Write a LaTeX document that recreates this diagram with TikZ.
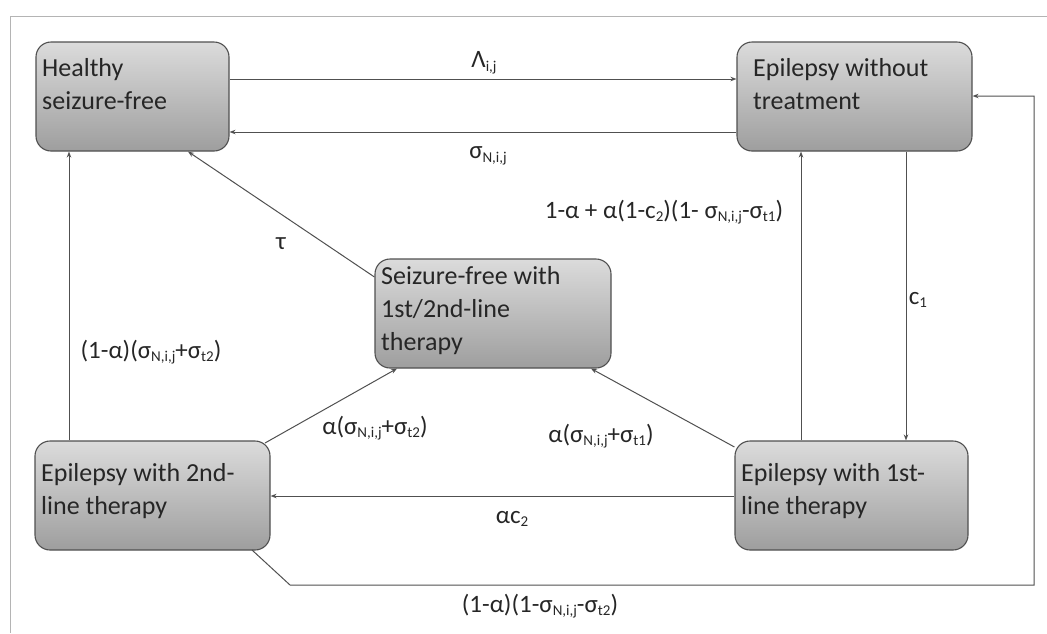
\documentclass[tikz,border=0pt]{standalone}
\usepackage{fontspec}
\setmainfont{Carlito}
\usetikzlibrary{arrows.meta,calc}
\newcommand{\mysb}[1]{\raisebox{-0.3ex}{\fontsize{15}{15}\selectfont #1}}
\definecolor{edgegray}{HTML}{505050}
\definecolor{framegray}{HTML}{B4B4B4}
\tikzset{
  box/.style={draw=edgegray, line width=1.1pt, rounded corners=15pt,
    top color=black!14, bottom color=black!38, minimum width=#1, minimum height=109pt, inner sep=0pt},
  txt/.style={anchor=north west, align=left, inner sep=0pt, font=\fontsize{26}{33}\selectfont, text=black!85},
  lbl/.style={inner sep=0pt, font=\fontsize{25}{30}\selectfont, text=black!85},
  conn/.style={draw=edgegray, line width=1pt, -{Stealth[length=6pt,width=4.5pt]}}
}
\begin{document}
\begin{tikzpicture}[x=1pt,y=-1pt]
\useasboundingbox (0,0) rectangle (1047,633);
\draw[framegray, line width=1pt] (10,633) -- (10,16) -- (1047,16);
% boxes
\node[box=193pt] (h) at (132.5,96.5) {};
\node[box=235pt] (w) at (854.5,96.5) {};
\node[box=236pt] (s) at (493,313.5) {};
\node[box=235pt] (e2) at (152.5,495.5) {};
\node[box=233pt] (e1) at (851.5,495.5) {};
% texts
\node[txt] (th) at (42,58) {Healthy\\seizure-free};
\node[txt] (tw) at (753,58) {Epilepsy without\\treatment};
\node[txt] (ts) at (381,266) {Seizure-free with\\1st/2nd-line\\therapy};
\node[txt] (te2) at (41,463) {Epilepsy with 2nd-\\line therapy};
\node[txt] (te1) at (741,463) {Epilepsy with 1st-\\line therapy};
% connectors
\draw[conn] (h.east |- 0,79) -- (w.west |- 0,79);
\draw[conn] (w.west |- 0,132) -- (h.east |- 0,132);
\draw[conn] (s.west |- 0,277) -- (h.south -| 188,0);
\draw[conn] (e2.north -| 69,0) -- (h.south -| 69,0);
\draw[conn] (265,443) -- (s.south -| 397,0);
\draw[conn] (e1.west |- 0,447) -- (s.south -| 591,0);
\draw[conn] (e1.west |- 0,496) -- (e2.east |- 0,496);
\draw[conn] (e1.north -| 801,0) -- (w.south -| 801,0);
\draw[conn] (w.south -| 906,0) -- (e1.north -| 906,0);
\coordinate (b1) at (290,585);
\coordinate (b2) at (1034,585);
\coordinate (b3) at (1034,96);
\draw[conn] (252,550) -- (b1) -- (b2) -- (b3) -- (w.east |- b3);
% labels
\node[lbl] (l1) at (484,63) {Λ\mysb{i,j}};
\node[lbl] (l2) at (488,156) {σ\mysb{N,i,j}};
\node[lbl] (l3) at (281,244) {τ};
\node[lbl] (l4) at (151,352) {(1-α)(σ\mysb{N,i,j}+σ\mysb{t2})};
\node[lbl] (l5) at (375,428) {α(σ\mysb{N,i,j}+σ\mysb{t2})};
\node[lbl] (l6) at (601,436) {α(σ\mysb{N,i,j}+σ\mysb{t1})};
\node[lbl] (l7) at (512,519) {αc\mysb{2}};
\node[lbl] (l8) at (664,212) {1-α + α(1-c\mysb{2})(1- σ\mysb{N,i,j}-σ\mysb{t1})};
\node[lbl] (l9) at (918,300) {c\mysb{1}};
\node[lbl] (l10) at (540,606) {(1-α)(1-σ\mysb{N,i,j}-σ\mysb{t2})};
\end{tikzpicture}
\end{document}
